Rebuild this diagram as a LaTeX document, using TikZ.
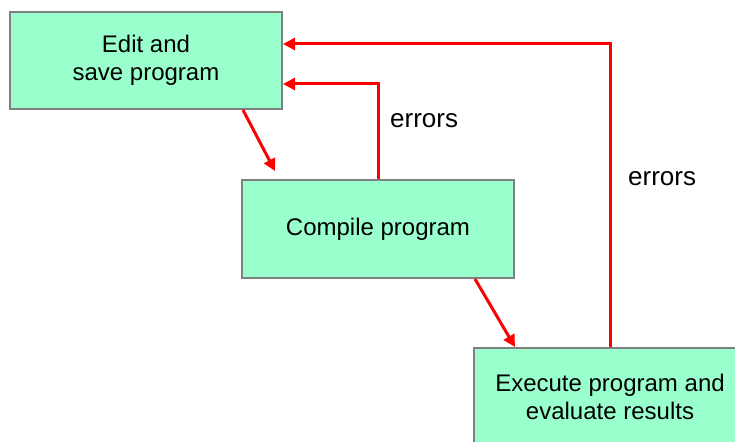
\documentclass[tikz,border=0pt]{standalone}
\usepackage{fontspec}
\setmainfont{Liberation Sans}
\usetikzlibrary{arrows.meta}
\definecolor{boxgreen}{HTML}{99FFCC}
\definecolor{boxgray}{HTML}{808080}
\tikzset{
  stagebox/.style={rectangle, draw=boxgray, line width=2pt, fill=boxgreen, minimum width=272pt, minimum height=98pt, align=center, inner sep=0pt, font=\fontsize{24}{28}\selectfont},
  flow/.style={draw=red, line width=3pt, -{Triangle[length=12pt,width=12pt]}},
  errlabel/.style={anchor=base west, inner sep=0pt, font=\fontsize{26}{30}\selectfont}
}
\begin{document}
\begin{tikzpicture}[x=1pt,y=-1pt]
\useasboundingbox (0,0) rectangle (735,441);
\clip (0,0) rectangle (735,441);
\node[stagebox, minimum height=97pt] (edit) at (146,60.5) {Edit and\\save program};
\node[stagebox] (compile) at (378,229) {Compile program};
\node[stagebox] (execute) at (610,397) {Execute program and\\evaluate results};
\draw[flow] ([xshift=97pt]edit.south) -- ([xshift=-103pt,yshift=8pt]compile.north);
\draw[flow] ([xshift=97pt]compile.south) -- ([xshift=-95pt]execute.north);
\draw[flow] (compile.north) |- ([yshift=-23.5pt]edit.east);
\draw[flow] (execute.north) |- ([yshift=16.5pt]edit.east);
\node[errlabel] (errcompile) at (390,127) {errors};
\node[errlabel] (errexecute) at (628,185) {errors};
\end{tikzpicture}
\end{document}
